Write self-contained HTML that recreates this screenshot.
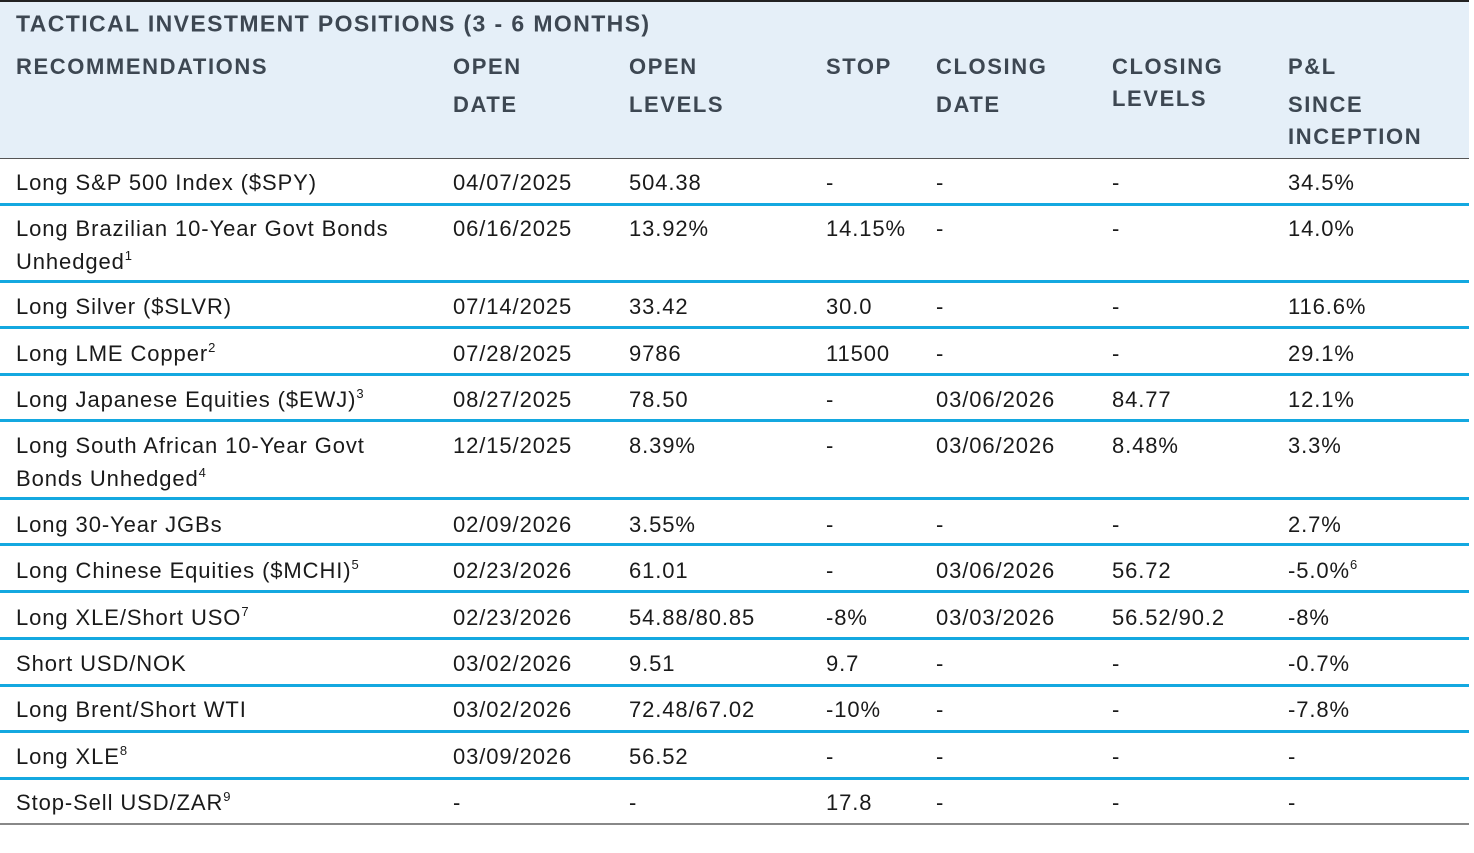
<!DOCTYPE html>
<html><head><meta charset="utf-8"><style>
body{margin:0;width:1474px;height:853px;background:#fff;position:relative;overflow:hidden;font-family:"Liberation Sans",sans-serif;}
.hd{position:absolute;left:0;top:0;width:1469px;height:158px;background:#e5eff8;border-top:2px solid #222;box-sizing:border-box;}
.h{position:absolute;color:#3d4752;font-size:22px;font-weight:bold;letter-spacing:1.6px;line-height:1;transform:translateY(-50%);white-space:nowrap;}
.t{position:absolute;color:#1a1a1a;font-size:22px;letter-spacing:0.9px;line-height:1;transform:translateY(-50%);white-space:nowrap;}
.t sup{font-size:13px;vertical-align:9px;line-height:0;}
.ln{position:absolute;left:0;width:1469px;height:3px;background:#14a8e0;}
</style></head><body>
<div class="hd"></div>
<div class="h" style="left:16px;top:24px;font-size:23px;letter-spacing:1.4px">TACTICAL INVESTMENT POSITIONS (3 - 6 MONTHS)</div>
<div class="h" style="left:16px;top:67px">RECOMMENDATIONS</div>
<div class="h" style="left:453px;top:67px">OPEN</div><div class="h" style="left:453px;top:105px">DATE</div>
<div class="h" style="left:629px;top:67px">OPEN</div><div class="h" style="left:629px;top:105px">LEVELS</div>
<div class="h" style="left:826px;top:67px">STOP</div>
<div class="h" style="left:936px;top:67px">CLOSING</div><div class="h" style="left:936px;top:105px">DATE</div>
<div class="h" style="left:1112px;top:67px">CLOSING</div><div class="h" style="left:1112px;top:99px">LEVELS</div>
<div class="h" style="left:1288px;top:67px">P&amp;L</div><div class="h" style="left:1288px;top:105px">SINCE</div><div class="h" style="left:1288px;top:137px">INCEPTION</div>
<div style="position:absolute;left:0;top:158px;width:1469px;height:1px;background:#555"></div>

<div class="ln" style="top:203px"></div>
<div class="ln" style="top:280px"></div>
<div class="ln" style="top:326px"></div>
<div class="ln" style="top:373px"></div>
<div class="ln" style="top:419px"></div>
<div class="ln" style="top:497px"></div>
<div class="ln" style="top:543px"></div>
<div class="ln" style="top:590px"></div>
<div class="ln" style="top:637px"></div>
<div class="ln" style="top:684px"></div>
<div class="ln" style="top:730px"></div>
<div class="ln" style="top:777px"></div>
<div style="position:absolute;left:0;top:823px;width:1469px;height:2px;background:#888"></div>

<div id="rows"></div>
<script>
var R=[
[183,"Long S&amp;P 500 Index ($SPY)","04/07/2025","504.38","-","-","-","34.5%"],
[229,"Long Brazilian 10-Year Govt Bonds","06/16/2025","13.92%","14.15%","-","-","14.0%"],
[262,"Unhedged<sup>1</sup>","","","","","",""],
[307,"Long Silver ($SLVR)","07/14/2025","33.42","30.0","-","-","116.6%"],
[354,"Long LME Copper<sup>2</sup>","07/28/2025","9786","11500","-","-","29.1%"],
[400,"Long Japanese Equities ($EWJ)<sup>3</sup>","08/27/2025","78.50","-","03/06/2026","84.77","12.1%"],
[446,"Long South African 10-Year Govt","12/15/2025","8.39%","-","03/06/2026","8.48%","3.3%"],
[479,"Bonds Unhedged<sup>4</sup>","","","","","",""],
[525,"Long 30-Year JGBs","02/09/2026","3.55%","-","-","-","2.7%"],
[571,"Long Chinese Equities ($MCHI)<sup>5</sup>","02/23/2026","61.01","-","03/06/2026","56.72","-5.0%<sup>6</sup>"],
[618,"Long XLE/Short USO<sup>7</sup>","02/23/2026","54.88/80.85","-8%","03/03/2026","56.52/90.2","-8%"],
[664,"Short USD/NOK","03/02/2026","9.51","9.7","-","-","-0.7%"],
[710,"Long Brent/Short WTI","03/02/2026","72.48/67.02","-10%","-","-","-7.8%"],
[757,"Long XLE<sup>8</sup>","03/09/2026","56.52","-","-","-","-"],
[803,"Stop-Sell USD/ZAR<sup>9</sup>","-","-","17.8","-","-","-"]];
var X=[16,453,629,826,936,1112,1288],h="";
R.forEach(function(r){for(var i=0;i<7;i++){if(r[i+1])h+='<div class="t" style="left:'+X[i]+'px;top:'+r[0]+'px">'+r[i+1]+'</div>';}});
document.getElementById("rows").innerHTML=h;
</script>
</body></html>
